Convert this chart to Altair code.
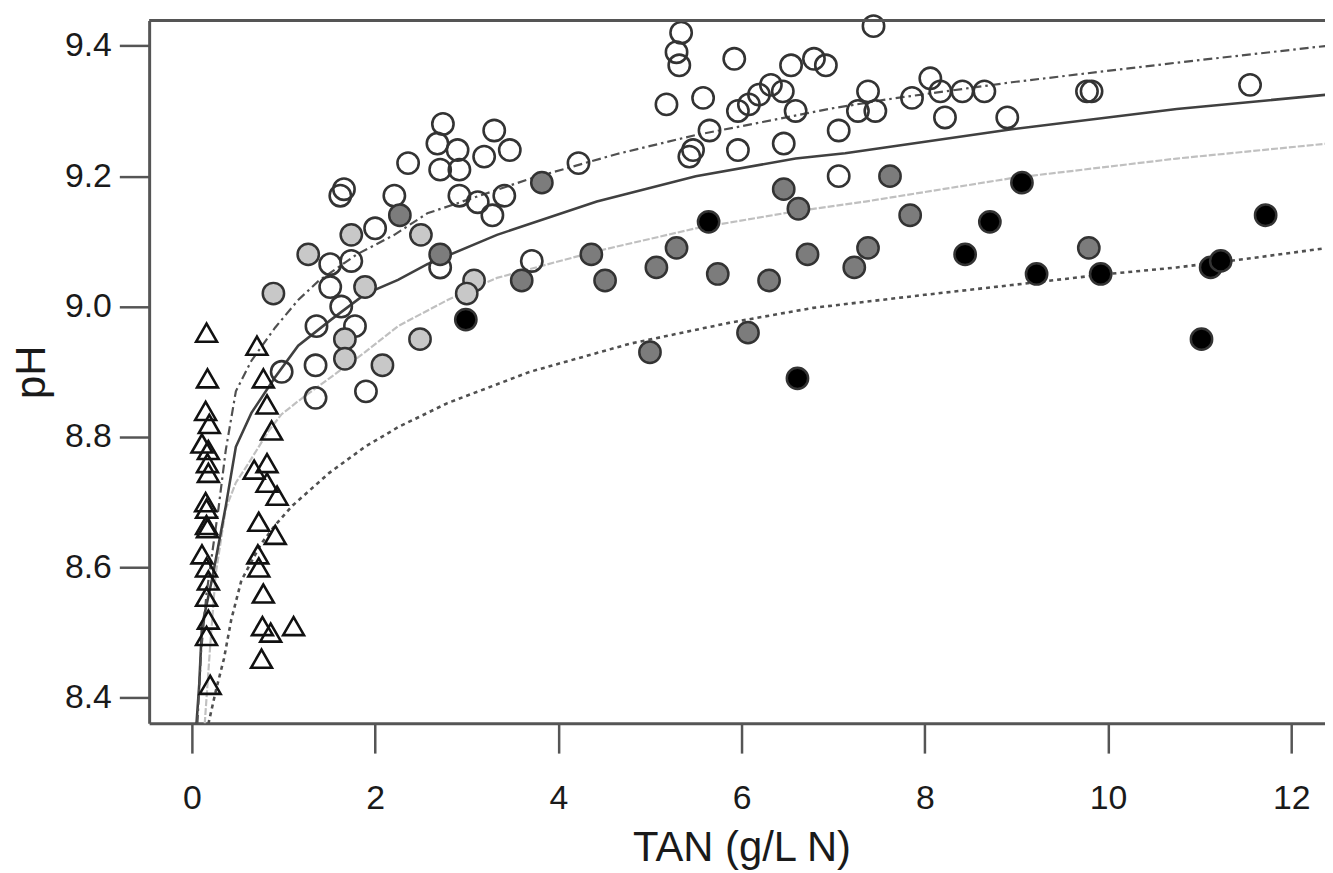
import altair as alt
import pandas as pd

# ---------------- data ----------------
X_TICKS = [0, 2, 4, 6, 8, 10, 12]
Y_TICKS = [8.4, 8.6, 8.8, 9.0, 9.2, 9.4]

tri_tan = [0.16, 0.17, 0.15, 0.19, 0.11, 0.18, 0.17, 0.18, 0.15, 0.16, 0.16, 0.17, 0.11, 0.16, 0.18, 0.16, 0.18, 0.16, 0.20,
           0.71, 0.78, 0.82, 0.87, 0.82, 0.68, 0.82, 0.93, 0.73, 0.91, 0.72, 0.73, 0.78, 0.77, 0.86, 1.11, 0.76]
tri_ph = [8.96, 8.89, 8.84, 8.82, 8.79, 8.78, 8.76, 8.745, 8.70, 8.69, 8.665, 8.66, 8.62, 8.60, 8.58, 8.555, 8.52, 8.495, 8.42,
          8.94, 8.89, 8.85, 8.81, 8.76, 8.75, 8.73, 8.71, 8.67, 8.65, 8.62, 8.60, 8.56, 8.51, 8.50, 8.51, 8.46]

open_tan = [1.62, 1.66, 2.21, 2.00, 2.36, 1.51, 1.74, 1.51, 1.63, 1.78, 1.36, 1.35, 0.98, 1.35, 1.90, 2.71,
            2.74, 2.68, 2.90, 3.19, 3.30, 3.47, 2.71, 2.92, 2.92, 3.12, 3.41, 3.28, 3.71, 4.22,
            5.34, 5.29, 5.32, 5.92, 5.18, 5.58, 6.54, 6.79, 6.92, 5.96, 6.08, 6.19, 6.32, 6.45, 6.59,
            5.65, 5.47, 5.43, 5.96, 6.46, 7.06, 7.06, 7.27, 7.38, 7.46, 7.44, 7.86, 8.06, 8.17, 8.22,
            8.41, 8.65, 8.90, 9.77, 9.82, 11.55]
open_ph = [9.17, 9.18, 9.17, 9.12, 9.22, 9.065, 9.07, 9.03, 9.00, 8.97, 8.97, 8.91, 8.90, 8.86, 8.87, 9.06,
           9.28, 9.25, 9.24, 9.23, 9.27, 9.24, 9.21, 9.21, 9.17, 9.16, 9.17, 9.14, 9.07, 9.22,
           9.42, 9.39, 9.37, 9.38, 9.31, 9.32, 9.37, 9.38, 9.37, 9.30, 9.31, 9.325, 9.34, 9.33, 9.30,
           9.27, 9.24, 9.23, 9.24, 9.25, 9.27, 9.20, 9.30, 9.33, 9.30, 9.43, 9.32, 9.35, 9.33, 9.29,
           9.33, 9.33, 9.29, 9.33, 9.33, 9.34]

lg_tan = [1.27, 1.74, 2.50, 1.89, 0.89, 1.67, 1.67, 2.49, 2.08, 3.08, 3.00]
lg_ph = [9.08, 9.11, 9.11, 9.03, 9.02, 8.95, 8.92, 8.95, 8.91, 9.04, 9.02]

dg_tan = [2.27, 2.71, 3.82, 3.60, 4.36, 4.51, 5.07, 5.29, 5.74, 6.30, 6.72, 6.46, 6.62, 7.23, 7.38, 5.00, 6.07, 7.62, 7.84, 9.79]
dg_ph = [9.14, 9.08, 9.19, 9.04, 9.08, 9.04, 9.06, 9.09, 9.05, 9.04, 9.08, 9.18, 9.15, 9.06, 9.09, 8.93, 8.96, 9.20, 9.14, 9.09]

bk_tan = [2.99, 5.64, 6.61, 9.06, 8.71, 8.44, 9.22, 9.92, 11.72, 11.12, 11.23, 11.02]
bk_ph = [8.98, 9.13, 8.89, 9.19, 9.13, 9.08, 9.05, 9.05, 9.14, 9.06, 9.07, 8.95]

c1_tan = [0.06, 0.10, 0.16, 0.22, 0.29, 0.37, 0.48, 0.65, 0.91, 1.16, 1.38, 1.80, 2.21, 2.57, 3.69, 4.64, 5.50, 6.23, 6.95, 7.60, 8.95, 10.75, 12.40]
c1_ph = [8.36, 8.47, 8.56, 8.62, 8.69, 8.78, 8.87, 8.917, 8.968, 9.01, 9.039, 9.08, 9.11, 9.143, 9.196, 9.234, 9.263, 9.283, 9.303, 9.318, 9.344, 9.374, 9.40]

c2_tan = [0.05, 0.08, 0.11, 0.22, 0.37, 0.48, 0.65, 0.91, 1.16, 1.52, 1.89, 2.25, 2.57, 3.33, 4.42, 5.50, 6.59, 7.13, 8.95, 10.75, 12.40]
c2_ph = [8.36, 8.42, 8.51, 8.582, 8.694, 8.785, 8.837, 8.892, 8.94, 8.98, 9.019, 9.041, 9.065, 9.11, 9.161, 9.20, 9.227, 9.235, 9.272, 9.303, 9.325]

c3_tan = [0.14, 0.20, 0.26, 0.37, 0.48, 0.62, 0.84, 0.98, 1.16, 1.50, 1.89, 2.25, 2.79, 3.33, 4.42, 5.50, 6.59, 7.35, 8.95, 10.75, 12.40]
c3_ph = [8.36, 8.48, 8.59, 8.69, 8.73, 8.76, 8.81, 8.835, 8.855, 8.89, 8.93, 8.97, 9.01, 9.044, 9.085, 9.12, 9.146, 9.161, 9.197, 9.227, 9.25]

c4_tan = [0.18, 0.26, 0.35, 0.43, 0.54, 0.75, 0.91, 1.10, 1.50, 1.89, 2.25, 2.79, 3.69, 4.78, 5.86, 6.78, 8.00, 8.95, 10.00, 10.75, 11.50, 12.40]
c4_ph = [8.36, 8.41, 8.46, 8.52, 8.58, 8.635, 8.665, 8.695, 8.745, 8.785, 8.815, 8.852, 8.90, 8.943, 8.975, 8.998, 9.018, 9.033, 9.05, 9.06, 9.073, 9.09]

# ---------------- chart ----------------
W, H = 1183, 707
FONT = "Liberation Sans"
AX = "#555555"
TXT = "#1a1a1a"

x_scale = alt.Scale(domain=[-0.4665, 12.368], nice=False, zero=False)
y_scale = alt.Scale(domain=[8.361, 9.4386], nice=False, zero=False)

x_axis = alt.Axis(values=X_TICKS, format="d", title="TAN (g/L N)", grid=False,
                  domainColor=AX, domainWidth=3, tickColor=AX, tickWidth=2.5, tickSize=30,
                  labelFont=FONT, labelFontSize=34, labelColor=TXT, labelPadding=29,
                  labelFlush=False, labelOverlap=False,
                  titleFont=FONT, titleFontSize=42, titleFontWeight="normal", titleColor=TXT,
                  titleX=596, titleY=105, titleAlign="center", titleBaseline="top")
y_axis = alt.Axis(values=Y_TICKS, format=".1f", title="pH", grid=False,
                  domainColor=AX, domainWidth=3, tickColor=AX, tickWidth=2.5, tickSize=30,
                  labelFont=FONT, labelFontSize=34, labelColor=TXT, labelPadding=8,
                  labelFlush=False, labelOverlap=False,
                  titleFont=FONT, titleFontSize=42, titleFontWeight="normal", titleColor=TXT,
                  titleAngle=270, titleX=-105, titleY=353.5, titleAlign="center",
                  titleBaseline="alphabetic")

X = alt.X("TAN:Q", scale=x_scale, axis=x_axis)
Y = alt.Y("pH:Q", scale=y_scale, axis=y_axis)


def df(t, p):
    return pd.DataFrame({"TAN": t, "pH": p})


def curve(t, p, color, width, dash=None):
    kw = dict(color=color, strokeWidth=width, clip=True)
    if dash:
        kw["strokeDash"] = dash
    return alt.Chart(df(t, p)).mark_line(**kw).encode(x=X, y=Y)


lines = [
    curve(c3_tan, c3_ph, "#c0c0c0", 2.2, [7, 2]),
    curve(c4_tan, c4_ph, "#505050", 2.6, [4, 4]),
    curve(c2_tan, c2_ph, "#404040", 2.6),
    curve(c1_tan, c1_ph, "#505050", 2.2, [9, 4, 2.5, 4]),
]

tri = alt.Chart(df(tri_tan, tri_ph)).mark_point(
    shape="triangle-up", filled=False, stroke="#111111", strokeWidth=2.6, size=440, opacity=1
).encode(x=X, y=Y)

opn = alt.Chart(df(open_tan, open_ph)).mark_point(
    shape="circle", filled=False, stroke="#333333", strokeWidth=2.6, size=460, opacity=1
).encode(x=X, y=Y)


def filled(t, p, fill):
    return alt.Chart(df(t, p)).mark_point(
        shape="circle", filled=True, fill=fill, stroke="#333333", strokeWidth=2.5,
        size=460, opacity=1, fillOpacity=1, strokeOpacity=1
    ).encode(x=X, y=Y)


lg = filled(lg_tan, lg_ph, "#c8c8c8")
dg = filled(dg_tan, dg_ph, "#7c7c7c")
bk = filled(bk_tan, bk_ph, "#000000")

frame = alt.Chart(pd.DataFrame({"k": [0]})).mark_rule(color=AX, strokeWidth=3).encode(
    x=alt.value(0), x2=alt.value(W), y=alt.value(0)
)

chart = alt.layer(*lines, opn, tri, lg, dg, bk, frame).properties(
    width=W, height=H,
    padding={"left": 142, "top": 10, "right": 0, "bottom": 148},
    autosize=alt.AutoSizeParams(type="none"),
    background="white",
).configure_view(strokeWidth=0)

chart.save("out.html", embed_options={"renderer": "svg", "actions": False})
